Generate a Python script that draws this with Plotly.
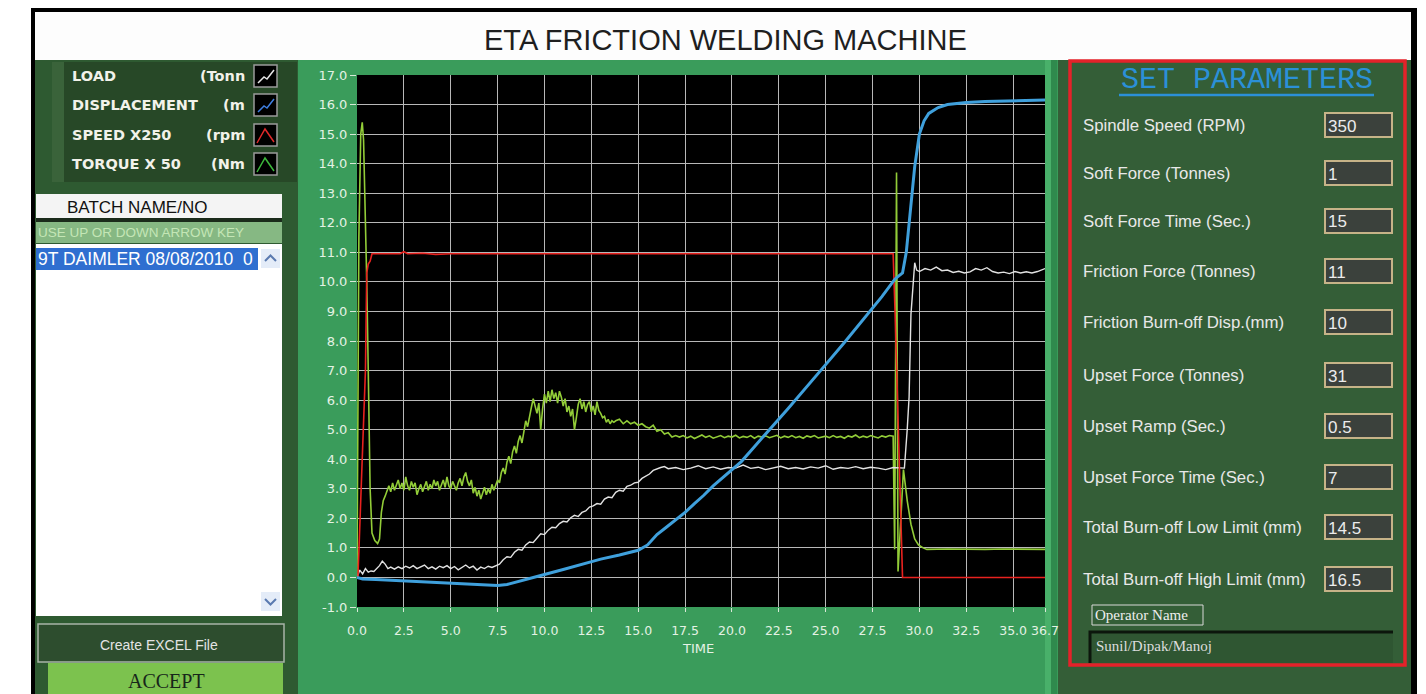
import plotly.graph_objects as go

# ---------------- DATA ----------------
x_tick_vals = [0.0, 2.5, 5.0, 7.5, 10.0, 12.5, 15.0, 17.5, 20.0, 22.5, 25.0, 27.5, 30.0, 32.5, 35.0, 36.7]
x_tick_text = ["0.0", "2.5", "5.0", "7.5", "10.0", "12.5", "15.0", "17.5", "20.0", "22.5", "25.0", "27.5", "30.0", "32.5", "35.0", "36.7"]
y_tick_vals = [-1, 0, 1, 2, 3, 4, 5, 6, 7, 8, 9, 10, 11, 12, 13, 14, 15, 16, 17]
y_tick_text = ["-1.0", "0.0", "1.0", "2.0", "3.0", "4.0", "5.0", "6.0", "7.0", "8.0", "9.0",
               "10.0", "11.0", "12.0", "13.0", "14.0", "15.0", "16.0", "17.0"]

# TORQUE X 50 (green)
torque_t = [0.0, 0.1, 0.2, 0.28, 0.35, 0.45, 0.52, 0.6, 0.7, 0.8, 0.95, 1.1, 1.2, 1.3,
            1.4, 1.5, 1.6, 1.7, 1.8, 1.9, 2.0, 2.1, 2.2, 2.3, 2.4, 2.5, 2.6, 2.7, 2.8, 2.9,
            3.0, 3.1, 3.2, 3.3, 3.4, 3.5, 3.6, 3.7, 3.8, 3.9, 4.0, 4.1, 4.2, 4.3, 4.4, 4.5, 4.6, 4.7, 4.8, 4.9,
            5.0, 5.1, 5.2, 5.3, 5.4, 5.5, 5.6, 5.7, 5.8, 5.9, 6.0, 6.1, 6.2, 6.3, 6.4, 6.5, 6.6, 6.7, 6.8, 6.9,
            7.0, 7.1, 7.2, 7.3, 7.4, 7.5, 7.6, 7.7, 7.8, 7.9, 8.0, 8.1, 8.2, 8.3, 8.4, 8.5, 8.6, 8.7, 8.8, 8.9,
            9.0, 9.1, 9.2, 9.3, 9.4, 9.5, 9.6, 9.7, 9.8, 9.9, 10.0, 10.1, 10.2, 10.3, 10.4, 10.5, 10.6, 10.7, 10.8, 10.9,
            11.0, 11.1, 11.2, 11.3, 11.4, 11.5, 11.6, 11.7, 11.8, 11.9, 12.0, 12.1, 12.2, 12.3, 12.4, 12.5, 12.6, 12.7, 12.8, 12.9,
            13.0, 13.1, 13.2, 13.3, 13.4, 13.5, 13.6, 13.7, 13.8,
            14.0, 14.2, 14.4, 14.6, 14.8, 15.0, 15.2, 15.4, 15.6, 15.8, 16.0, 16.2, 16.4, 16.6, 16.8, 17.0,
            17.2, 17.4, 17.6, 17.8, 18.0, 18.2, 18.4, 18.6, 18.8, 19.0, 19.2, 19.4, 19.6, 19.8, 20.0, 20.2, 20.4, 20.6, 20.8, 21.0,
            21.2, 21.4, 21.6, 21.8, 22.0, 22.2, 22.4, 22.6, 22.8, 23.0, 23.2, 23.4, 23.6, 23.8, 24.0, 24.2, 24.4, 24.6, 24.8, 25.0,
            25.2, 25.4, 25.6, 25.8, 26.0, 26.2, 26.4, 26.6, 26.8, 27.0, 27.2, 27.4, 27.6, 27.8, 28.0, 28.2, 28.4, 28.6,
            28.68, 28.78, 28.86, 29.15, 29.35, 29.55, 29.75, 29.95, 30.2, 30.4,
            31.5, 32.5, 33.5, 34.5, 35.5, 36.7]
torque_v = [0.0, 11.5, 15.0, 15.4, 14.8, 12.3, 10.0, 7.0, 3.0, 1.5, 1.25, 1.15, 1.3, 2.2,
            2.6, 2.75, 2.95, 3.1, 2.9, 3.2, 2.95, 3.15, 3.3, 3.0, 3.2, 2.95, 3.4, 3.1, 2.95, 3.25,
            3.05, 3.2, 2.8, 3.0, 3.15, 2.9, 3.05, 3.25, 2.95, 3.15, 3.0, 3.3, 3.1, 3.25, 2.95, 3.15, 3.3, 3.05, 3.4, 3.1,
            3.0, 3.25, 3.1, 2.95, 3.2, 3.35, 3.1, 3.4, 3.55, 3.25, 3.1, 3.3, 2.85, 3.05, 2.75, 2.95, 2.65, 2.9, 3.05, 2.8,
            3.0, 2.85, 3.15, 2.95, 3.1, 3.3, 3.2, 3.55, 3.7, 3.5, 3.9, 4.1, 3.85, 4.25, 4.45, 4.2, 4.6, 4.8, 4.55, 5.0,
            5.3, 5.1, 5.5, 5.75, 6.05, 5.8, 5.55, 5.9, 5.0, 5.7, 6.2, 5.9, 6.3, 5.95, 6.35, 6.05, 6.25, 5.9, 6.3, 6.1,
            5.8, 6.05, 5.6, 5.8, 5.45, 5.7, 5.0, 5.4, 5.85, 6.05, 5.7, 5.95, 5.6, 5.85, 5.95, 5.6, 5.8, 5.5, 5.95, 5.65,
            5.55, 5.4, 5.45, 5.25, 5.35, 5.2, 5.3, 5.25, 5.3,
            5.35, 5.2, 5.3, 5.2, 5.25, 5.15, 5.2, 5.1, 5.05, 5.15, 4.95, 5.0, 4.85, 4.9, 4.75, 4.8,
            4.75, 4.8, 4.72, 4.78, 4.7, 4.77, 4.82, 4.74, 4.79, 4.71, 4.76, 4.8, 4.73, 4.78, 4.75, 4.81, 4.72, 4.77, 4.74, 4.8,
            4.71, 4.78, 4.75, 4.79, 4.73, 4.76, 4.81, 4.72, 4.78, 4.74, 4.8, 4.73, 4.77, 4.71, 4.79, 4.75, 4.8, 4.72, 4.76, 4.78,
            4.73, 4.8, 4.74, 4.77, 4.71, 4.79, 4.75, 4.82, 4.73, 4.78, 4.74, 4.8, 4.76, 4.72, 4.79, 4.75, 4.8, 4.78,
            0.95, 13.7, 0.2, 3.65, 2.6, 1.8, 1.3, 1.1, 1.0, 0.95,
            0.96, 0.95, 0.95, 0.96, 0.95, 0.95]

# LOAD (white)
load_t = [0.0, 0.15, 0.3, 0.45, 0.6, 0.75, 0.9, 1.05, 1.2, 1.35, 1.5, 1.65, 1.8, 2.0, 2.2, 2.4, 2.6,
          2.8, 3.0, 3.2, 3.4, 3.6, 3.8, 4.0, 4.2, 4.4, 4.6, 4.8, 5.0, 5.2, 5.4, 5.6, 5.8, 6.0, 6.2,
          6.4, 6.6, 6.8, 7.0, 7.2,
          7.4, 7.6, 7.8, 8.0, 8.2, 8.4, 8.6, 8.8, 9.0, 9.2, 9.4, 9.6, 9.8, 10.0, 10.2, 10.4, 10.6, 10.8,
          11.0, 11.2, 11.4, 11.6, 11.8, 12.0, 12.2, 12.4, 12.6, 12.8, 13.0, 13.2, 13.4, 13.6, 13.8,
          14.0, 14.2, 14.4, 14.6, 14.8, 15.0, 15.2, 15.4, 15.6, 15.8, 16.0, 16.2, 16.4, 16.6,
          17.0, 17.4, 17.8, 18.2, 18.6, 19.0, 19.4, 19.8, 20.2, 20.6, 21.0, 21.4, 21.8, 22.2,
          22.6, 23.0, 23.4, 23.8, 24.2, 24.6, 25.0, 25.4, 25.8, 26.2, 26.6, 27.0, 27.4, 27.8,
          28.2, 28.6, 29.0,
          29.2, 29.35, 29.45, 29.55, 29.65, 29.75, 29.85, 30.0, 30.3, 30.6, 30.9, 31.2, 31.5,
          31.8, 32.1, 32.4, 32.7, 33.0, 33.3, 33.6, 33.9, 34.2, 34.5, 34.8, 35.1, 35.4, 35.7,
          36.0, 36.3, 36.7]
load_v = [0.0, 0.25, 0.12, 0.3, 0.18, 0.22, 0.2, 0.3, 0.4, 0.55, 0.45, 0.3, 0.35, 0.28, 0.36, 0.3,
          0.38, 0.32, 0.4, 0.3, 0.35, 0.42, 0.3, 0.36, 0.28, 0.38, 0.33, 0.4, 0.3, 0.37, 0.26, 0.34,
          0.42, 0.32, 0.38, 0.25, 0.35, 0.3, 0.38, 0.34,
          0.4, 0.45, 0.6, 0.7, 0.68, 0.85, 0.95, 0.92, 1.1, 1.2, 1.18, 1.35, 1.48, 1.45, 1.6, 1.7, 1.68, 1.82,
          1.9, 1.88, 2.02, 2.1, 2.06, 2.2, 2.25, 2.38, 2.42, 2.5, 2.48, 2.65, 2.72, 2.7, 2.88,
          2.95, 2.92, 3.08, 3.12, 3.2, 3.22, 3.35, 3.42, 3.5, 3.62, 3.68, 3.72, 3.75, 3.68,
          3.72, 3.65, 3.7, 3.78, 3.68, 3.74, 3.66, 3.72, 3.7, 3.8, 3.69, 3.73, 3.65, 3.71,
          3.76, 3.68, 3.72, 3.67, 3.74, 3.7, 3.78, 3.66, 3.72, 3.69, 3.75, 3.68, 3.73, 3.7,
          3.65, 3.72, 3.7,
          3.7, 5.0, 6.1, 8.9, 9.8, 10.65, 10.4, 10.35, 10.45, 10.4, 10.5, 10.38, 10.4,
          10.32, 10.36, 10.3, 10.34, 10.45, 10.4, 10.48, 10.35, 10.3, 10.33, 10.28, 10.35, 10.3, 10.34,
          10.3, 10.35, 10.45]

# SPEED X250 (red)
speed_t = [0.0, 0.05, 0.45, 0.52, 0.6, 0.7, 0.8, 2.3, 2.5, 2.7, 3.5, 4.2, 5.0, 8.0, 12.0, 16.0,
           20.0, 24.0, 28.6, 28.7, 29.1, 36.7]
speed_v = [0.0, 0.0, 7.0, 10.3, 10.6, 10.7, 10.95, 10.95, 11.02, 10.95, 10.97, 10.93, 10.95, 10.95,
           10.96, 10.95, 10.95, 10.96, 10.95, 9.0, 0.0, 0.0]

# DISPLACEMENT (blue)
disp_t = [0.0, 0.3, 1.0, 2.0, 3.0, 4.0, 5.0, 6.0, 7.0, 7.5, 8.0, 8.5, 9.0, 9.5, 10.0, 11.0, 12.0,
          13.0, 14.0, 15.0, 15.5, 16.0, 16.5, 17.0, 17.5, 18.0, 18.5, 19.0, 19.5, 20.0, 20.5, 21.0,
          21.5, 22.0, 23.0, 24.0, 25.0, 26.0, 27.0, 28.0, 28.7, 29.1, 29.3, 29.5, 29.75, 30.0,
          30.25, 30.5, 31.0, 31.5, 32.5, 33.5, 35.0, 36.7]
disp_v = [0.0, -0.05, -0.07, -0.1, -0.13, -0.16, -0.19, -0.21, -0.26, -0.27, -0.24, -0.16, -0.06,
          0.02, 0.1, 0.27, 0.45, 0.62, 0.76, 0.92, 1.1, 1.45, 1.7, 1.95, 2.2, 2.5, 2.78, 3.1, 3.38,
          3.65, 3.92, 4.28, 4.65, 5.0, 5.72, 6.45, 7.2, 7.95, 8.72, 9.5, 10.1, 10.3, 11.0, 12.2,
          13.9, 15.0, 15.45, 15.7, 15.9, 16.0, 16.07, 16.1, 16.13, 16.15]

legend_names = ["LOAD", "DISPLACEMENT", "SPEED X250", "TORQUE X 50"]
legend_units = ["(Tonn", "(m", "(rpm", "(Nm"]
legend_colors = ["#e6e6e6", "#3f7fe0", "#e02a2a", "#3cb83c"]

param_labels = ["Spindle Speed (RPM)", "Soft Force (Tonnes)", "Soft Force Time (Sec.)",
                "Friction Force (Tonnes)", "Friction Burn-off Disp.(mm)", "Upset Force (Tonnes)",
                "Upset Ramp (Sec.)", "Upset Force Time (Sec.)", "Total Burn-off Low Limit (mm)",
                "Total Burn-off High Limit (mm)"]
param_values = ["350", "1", "15", "11", "10", "31", "0.5", "7", "14.5", "16.5"]

# ---------------- LAYOUT HELPERS ----------------
W, H = 1426, 694
OFF = 8  # page body margin of the html page
PL, PR, PT, PB = 357, 1045, 75, 607
FW, FH = W - OFF, H - OFF


def X(px):
    return (px - PL) / (PR - PL)


def Y(py):
    return (PB - py) / (PB - PT)


fig = go.Figure()


def rect(x0, y0, x1, y1, fill=None, line=None, lw=0):
    fig.add_shape(type="rect", xref="paper", yref="paper", x0=X(x0), x1=X(x1), y0=Y(y1), y1=Y(y0),
                  fillcolor=fill if fill else "rgba(0,0,0,0)",
                  line=dict(color=line if line else "rgba(0,0,0,0)", width=lw), layer="below")


def seg(pts, color, lw):
    d = "M " + " L ".join(f"{X(a):.5f},{Y(b):.5f}" for a, b in pts)
    fig.add_shape(type="path", xref="paper", yref="paper", path=d,
                  line=dict(color=color, width=lw), layer="below")


def txt(s, x, y, size, color, family="Liberation Sans", xanchor="left"):
    fig.add_annotation(text=s, x=X(x), y=Y(y), xref="paper", yref="paper", showarrow=False,
                       xanchor=xanchor, yanchor="middle", align="left",
                       font=dict(size=size, color=color, family=family))


# outer frame & panels
rect(31, 8, 1417, 694, fill="#000000")
rect(35, 12, 1411, 60, fill="#fdfdfd")
rect(35, 60, 298, 694, fill="#2e5a31")
rect(298, 60, 1058, 694, fill="#3a9c5b")
rect(1045, 60, 1051, 694, fill="#49b06a")
rect(1051, 60, 1057, 694, fill="#2f8a4d")
rect(1058, 60, 1411, 694, fill="#345e37")
rect(PL, PT, PR, PB, fill="#000000")
rect(1070, 61, 1405, 665, line="#e4222a", lw=3.5)

# title
txt("ETA FRICTION WELDING MACHINE", 725, 40, 29, "#1f1f1f", xanchor="center")

# legend panel
rect(52, 62, 297, 182, fill="#274827")
rect(52, 62, 64, 182, fill="#3a633a")
row_y = [76, 105, 135, 164]
for i in range(4):
    cy = row_y[i]
    txt("<b>" + legend_names[i] + "</b>", 70, cy, 14.5, "#f2f2ea", family="DejaVu Sans")
    txt("<b>" + legend_units[i] + "</b>", 247, cy, 14.5, "#f2f2ea", family="DejaVu Sans", xanchor="right")
    rect(254, cy - 11, 277, cy + 11, fill="#000000", line="#9a9a9a", lw=1.5)
    if i < 2:
        seg([(258, cy + 7), (264, cy + 1), (267, cy + 3), (274, cy - 6)], legend_colors[i], 1.5)
    else:
        seg([(257, cy + 8), (265, cy - 6), (274, cy + 7)], legend_colors[i], 1.5)

# batch list
rect(36, 194, 282, 218, fill="#f4f4f4")
txt("BATCH NAME/NO", 65, 207, 17, "#111111")
rect(36, 218, 282, 222, fill="#1b2b1b")
rect(36, 222, 282, 243, fill="#86b883")
txt("USE UP OR DOWN ARROW KEY", 36, 232, 13.5, "#c4e6b6")
rect(36, 244, 282, 616, fill="#ffffff")
rect(36, 248, 258, 270, fill="#2f6fd0")
txt("9T DAIMLER 08/08/2010  0", 36, 259, 17.5, "#ffffff")
rect(261, 249, 280, 268, fill="#e4ecf8")
seg([(265, 261), (270.5, 255.5), (276, 261)], "#5a7ab0", 2)
rect(261, 592, 280, 611, fill="#e4ecf8")
seg([(265, 599), (270.5, 604.5), (276, 599)], "#5a7ab0", 2)

# buttons
rect(38, 624, 284, 662, fill="#2d4d2e", line="#a8b4a8", lw=1.5)
txt("Create EXCEL File", 159, 645, 14, "#e4e4e4", xanchor="center")
rect(48, 663, 283, 694, fill="#7cc24e")
txt("ACCEPT", 166, 681, 20, "#17261a", family="Liberation Serif", xanchor="center")

# parameters panel
txt("SET PARAMETERS", 1247, 80, 30, "#2b90d8", family="Liberation Mono", xanchor="center")
seg([(1119, 95), (1374, 95)], "#2b90d8", 2.5)
param_y = [125, 173, 221, 271, 322, 375, 426, 477, 527, 579]
for i in range(len(param_labels)):
    cy = param_y[i]
    txt(param_labels[i], 1081, cy, 16.8, "#e8e8e8")
    rect(1325, cy - 12, 1392, cy + 12, fill="#3b413c", line="#c6b388", lw=2)
    txt(param_values[i], 1326, cy + 1, 17, "#ececec")

rect(1092, 605, 1203, 625, line="#d8d8d8", lw=1)
txt("Operator Name", 1093, 615, 15, "#eeeeee", family="Liberation Serif")
rect(1090, 631, 1393, 663, fill="#2f5632")
seg([(1090, 663), (1090, 632), (1393, 632)], "#0c160c", 3)
txt("Sunil/Dipak/Manoj", 1094, 646, 15, "#dddddd", family="Liberation Serif")

# axis title
txt("TIME", 698, 648, 13, "#e6f2e6", family="DejaVu Sans", xanchor="center")

# ---------------- TRACES ----------------
fig.add_trace(go.Scatter(x=torque_t, y=torque_v, mode="lines", name="TORQUE X 50",
                         line=dict(color="#92cc38", width=1.6)))
fig.add_trace(go.Scatter(x=load_t, y=load_v, mode="lines", name="LOAD",
                         line=dict(color="#e2e2e2", width=1.4)))
fig.add_trace(go.Scatter(x=speed_t, y=speed_v, mode="lines", name="SPEED X250",
                         line=dict(color="#e8221f", width=1.6)))
fig.add_trace(go.Scatter(x=disp_t, y=disp_v, mode="lines", name="DISPLACEMENT",
                         line=dict(color="#3fa0dc", width=3)))

axis_font = dict(size=13, color="#e4f2e4", family="DejaVu Sans")
fig.update_layout(
    width=FW, height=FH, autosize=False,
    margin=dict(l=PL - OFF, r=FW - (PR - OFF), t=PT - OFF, b=FH - (PB - OFF), pad=0),
    paper_bgcolor="#ffffff", plot_bgcolor="#000000",
    showlegend=False,
    xaxis=dict(range=[0, 36.7], tickmode="array", tickvals=x_tick_vals, ticktext=x_tick_text,
               showgrid=True, gridcolor="#b8b8b8", gridwidth=1, zeroline=False, showline=False,
               ticks="outside", ticklen=4, tickcolor="#d8ead8", tickfont=dict(size=12.5, color="#e4f2e4", family="DejaVu Sans"),
               tickangle=0, ticklabelstandoff=8, fixedrange=True),
    yaxis=dict(range=[-1, 17], tickmode="array", tickvals=y_tick_vals, ticktext=y_tick_text,
               showgrid=True, gridcolor="#b8b8b8", gridwidth=1, zeroline=False, showline=False,
               ticks="outside", ticklen=6, tickcolor="#d8ead8", tickfont=axis_font,
               fixedrange=True),
)

fig.write_html("out.html")
